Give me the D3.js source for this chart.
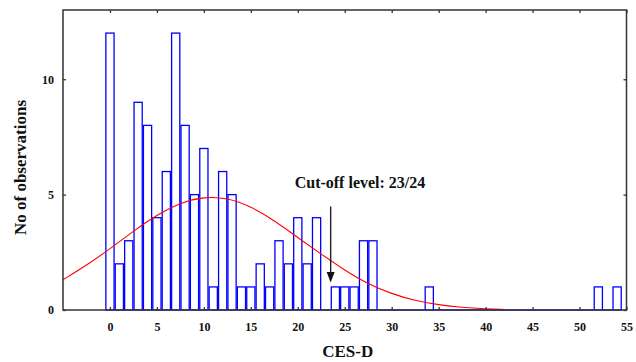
<!DOCTYPE html>
<html>
<head>
    <title>CES-D histogram</title>
    <script src="https://d3js.org/d3.v7.min.js"></script>
    <style>
        body { margin: 0; background: #fff; }
        text { font-family: "Liberation Serif", "Times New Roman", serif; font-weight: bold; fill: #111; }
    </style>
</head>
<body>
    <svg id="chart"></svg>
    <script>
        // observations per CES-D score (0..54)
        const scores = d3.range(0, 55);
        const counts = [12, 2, 3, 9, 8, 4, 6, 12, 8, 5, 7, 1, 6, 5, 1, 1, 2, 1, 3, 2,
                        4, 2, 4, 0, 1, 1, 1, 3, 3, 0, 0, 0, 0, 0, 1, 0, 0, 0, 0, 0,
                        0, 0, 0, 0, 0, 0, 0, 0, 0, 0, 0, 0, 1, 0, 1];

        // fitted normal curve
        const curveX = [-5, -2.5, 0, 2.5, 5, 7.5, 10, 12.5, 15, 17.5, 20, 22.5, 25, 27.5, 30, 32.5, 35, 37.5, 40, 42];
        const curveY = [1.31, 1.93, 2.65, 3.42, 4.12, 4.65, 4.91, 4.86, 4.49, 3.88, 3.14, 2.42, 1.72, 1.12, 0.70, 0.40, 0.22, 0.11, 0.05, 0.02];

        const xTicks = [0, 5, 10, 15, 20, 25, 30, 35, 40, 45, 50, 55];
        const yTicks = [0, 5, 10];

        const cutoff = 23.5;

        const width = 636, height = 362;
        const mLeft = 63, mRight = 626.5, mTop = 10, mBottom = 310;
        const serif = "'Liberation Serif', 'Times New Roman', serif";

        const svg = d3.select("#chart")
            .attr("width", width)
            .attr("height", height);

        const x = d3.scaleLinear().domain([-5, 55]).range([mLeft, mRight]);
        const y = d3.scaleLinear().domain([0, 13]).range([mBottom, mTop]);

        const line = d3.line()
            .x((d, i) => x(curveX[i]))
            .y(d => y(d))
            .curve(d3.curveBasis);

        // bars
        svg.append("g")
            .selectAll("rect")
            .data(scores)
            .join("rect")
            .attr("x", d => x(d - 0.5) + 0.6)
            .attr("width", d => x(d + 0.5) - x(d - 0.5) - 1.2)
            .attr("y", (d, i) => y(counts[i]))
            .attr("height", (d, i) => Math.max(0.01, y(0) - y(counts[i])))
            .attr("fill", "#fff")
            .attr("stroke", "#0000ff")
            .attr("stroke-width", 1.3);

        // red curve over the bars
        svg.append("path")
            .attr("d", line(curveY))
            .attr("fill", "none")
            .attr("stroke", "#ff0000")
            .attr("stroke-width", 1.1);

        // frame + inward ticks
        svg.append("rect")
            .attr("x", mLeft).attr("y", mTop)
            .attr("width", mRight - mLeft).attr("height", mBottom - mTop)
            .attr("fill", "none")
            .attr("stroke", "#333")
            .attr("stroke-width", 1.5);

        const styleAxis = g => {
            g.select(".domain").remove();
            g.attr("font-family", serif).attr("font-weight", "bold").attr("font-size", 12);
            g.selectAll("line").attr("stroke", "#333").attr("stroke-width", 1.3);
            g.selectAll("text").attr("fill", "#111");
        };

        svg.append("g")
            .attr("transform", `translate(0,${mBottom})`)
            .call(d3.axisBottom(x).tickValues(xTicks).tickSize(-3).tickPadding(12))
            .call(styleAxis);

        svg.append("g")
            .attr("transform", `translate(0,${mTop})`)
            .call(d3.axisTop(x).tickValues(xTicks).tickSize(-3).tickFormat(""))
            .call(styleAxis);

        svg.append("g")
            .attr("transform", `translate(${mLeft},0)`)
            .call(d3.axisLeft(y).tickValues(yTicks).tickSize(-3).tickPadding(9))
            .call(styleAxis);

        svg.append("g")
            .attr("transform", `translate(${mRight},0)`)
            .call(d3.axisRight(y).tickValues(yTicks).tickSize(-3).tickFormat(""))
            .call(styleAxis);

        // cut-off arrow
        const ax = x(cutoff);
        svg.append("line")
            .attr("x1", ax).attr("x2", ax)
            .attr("y1", 206.5).attr("y2", 274)
            .attr("stroke", "#222")
            .attr("stroke-width", 1.4);
        svg.append("path")
            .attr("d", `M${ax - 4},272 L${ax + 4},272 L${ax},282.5 Z`)
            .attr("fill", "#111");

        svg.append("text")
            .attr("x", 360)
            .attr("y", 188)
            .attr("text-anchor", "middle")
            .attr("font-size", 16)
            .text("Cut-off level: 23/24");

        // axis titles
        svg.append("text")
            .attr("x", (mLeft + mRight) / 2 + 3)
            .attr("y", 357)
            .attr("text-anchor", "middle")
            .attr("font-size", 17)
            .text("CES-D");

        svg.append("text")
            .attr("transform", `translate(26,${(95 + 240) / 2}) rotate(-90)`)
            .attr("text-anchor", "middle")
            .attr("font-size", 17)
            .text("No of observations");
    </script>
</body>
</html>
